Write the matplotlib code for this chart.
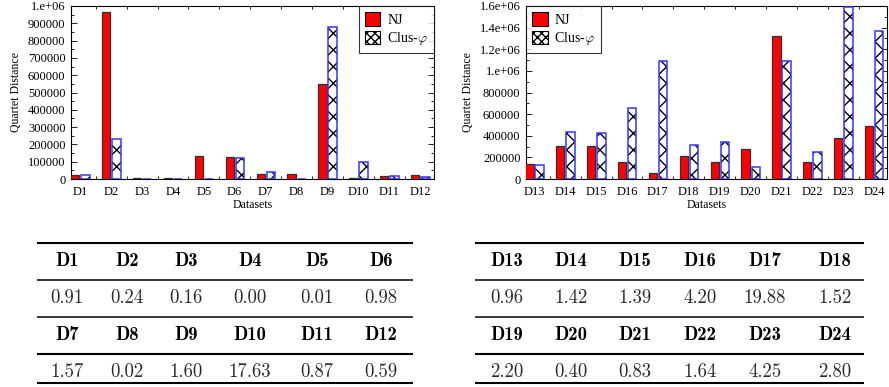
import matplotlib
matplotlib.use("Agg")
import matplotlib.pyplot as plt
import numpy as np
from matplotlib.patches import Patch
from matplotlib.ticker import MultipleLocator, FuncFormatter

plt.rcParams['font.family'] = ['Liberation Serif', 'DejaVu Serif']
plt.rcParams['mathtext.fontset'] = 'cm'
plt.rcParams['hatch.linewidth'] = 1.0

# data
labels_a = ["D1", "D2", "D3", "D4", "D5", "D6", "D7", "D8", "D9", "D10", "D11", "D12"]
nj_a = [25000, 963000, 4000, 4000, 135000, 125000, 27000, 31000, 550000, 7000, 19000, 25000]
clus_a = [23000, 233000, 2000, 1000, 2000, 123000, 42000, 2000, 880000, 100000, 15000, 14000]

labels_b = ["D13", "D14", "D15", "D16", "D17", "D18", "D19", "D20", "D21", "D22", "D23", "D24"]
nj_b = [136000, 307000, 307000, 161000, 56000, 214000, 158000, 282000, 1321000, 155000, 378000, 490000]
clus_b = [133000, 437000, 425000, 660000, 1095000, 319000, 344000, 115000, 1091000, 254000, 1594000, 1370000]

ratio_a = ["0.91", "0.24", "0.16", "0.00", "0.01", "0.98", "1.57", "0.02", "1.60", "17.63", "0.87", "0.59"]
ratio_b = ["0.96", "1.42", "1.39", "4.20", "19.88", "1.52", "2.20", "0.40", "0.83", "1.64", "4.25", "2.80"]

W, H = 889, 387
fig = plt.figure(figsize=(W / 100, H / 100), dpi=100)


def fmt_big(v, pos):
    if v == 0:
        return "0"
    if v >= 1e6 - 1:
        s = "%.1fe+06" % (v / 1e6)
        return s.replace("1.0e", "1.e")
    return "%d" % v


def bar_panel(rect, labels, nj, clus, ymax, ystep, legend_loc, xlim):
    ax = fig.add_axes(rect)
    x = np.arange(len(labels))
    w = 0.27
    ax.bar(x - 0.16, nj, w, color="#ff0000", edgecolor="#303030", linewidth=0.9, zorder=3)
    ax.bar(x + 0.17, clus, w, color="white", edgecolor="black", hatch="xx", linewidth=0, zorder=3)
    ax.bar(x + 0.17, clus, w, fill=False, edgecolor="#3535ff", linewidth=1.1, zorder=4)
    ax.set_xlim(*xlim)
    ax.set_ylim(0, ymax)
    ax.set_xticks(x)
    ax.set_xticklabels(labels)
    ax.yaxis.set_major_locator(MultipleLocator(ystep))
    ax.yaxis.set_minor_locator(MultipleLocator(ystep / 2))
    ax.xaxis.set_minor_locator(MultipleLocator(0.5))
    ax.yaxis.set_major_formatter(FuncFormatter(fmt_big))
    ax.tick_params(axis="both", which="both", direction="in", top=True, right=True,
                   labelsize=9, width=0.6, pad=4)
    ax.tick_params(axis="x", which="major", length=0, pad=5)
    ax.tick_params(axis="x", which="minor", length=2)
    ax.tick_params(axis="y", which="major", length=4)
    ax.tick_params(axis="y", which="minor", length=2)
    for s in ax.spines.values():
        s.set_linewidth(0.8)
    ax.set_xlabel("Datasets", fontsize=8.5, labelpad=1)
    ax.set_ylabel("Quartet Distance", fontsize=8.5, labelpad=4)
    handles = [Patch(facecolor="#ff0000", edgecolor="black", linewidth=0.8),
               Patch(facecolor="white", edgecolor="black", hatch="xxxx", linewidth=0.8)]
    leg = ax.legend(handles, ["NJ", r"Clus-$\varphi$"], loc=legend_loc, fontsize=10,
                    frameon=True, fancybox=False, borderaxespad=0, handlelength=1.1,
                    handleheight=1.1, handletextpad=0.5, borderpad=0.45, labelspacing=0.25)
    leg.get_frame().set_edgecolor("black")
    leg.get_frame().set_linewidth(0.8)
    leg.set_zorder(5)
    return ax


bar_panel([71 / W, 1 - 179 / H, (434 - 71) / W, 173 / H], labels_a, nj_a, clus_a,
          1e6, 100000, "upper right", (-0.3, 11.45))
bar_panel([526 / W, 1 - 179 / H, (887 - 526) / W, 173 / H], labels_b, nj_b, clus_b,
          1.6e6, 200000, "upper left", (-0.27, 11.42))

# tables drawn in pixel coordinates
tab = fig.add_axes([0, 0, 1, 1])
tab.set_xlim(0, W)
tab.set_ylim(H, 0)
tab.axis("off")

line_y = [243, 280, 317, 354, 383]
line_w = [1.5, 1.1, 1.1, 1.5, 1.5]
row_y = [261, 298, 335, 372]


def table(x0, x1, cols, labels, ratios):
    for y, lw in zip(line_y, line_w):
        tab.plot([x0, x1], [y, y], color="black", linewidth=lw, solid_capstyle="butt")
    for r in range(2):
        for c in range(6):
            i = r * 6 + c
            tab.text(cols[c], row_y[2 * r], labels[i], fontsize=13.5, family="cmb10",
                     ha="center", va="center")
            tab.text(cols[c], row_y[2 * r + 1], ratios[i], fontsize=13.5, family="cmr10",
                     ha="center", va="center", color="#2a2a2a")


table(37, 413, [67, 127, 186, 250, 317, 381], labels_a, ratio_a)
table(475, 864, [507, 571, 635, 700, 765, 835], labels_b, ratio_b)

fig.savefig("out.png", dpi=100)
